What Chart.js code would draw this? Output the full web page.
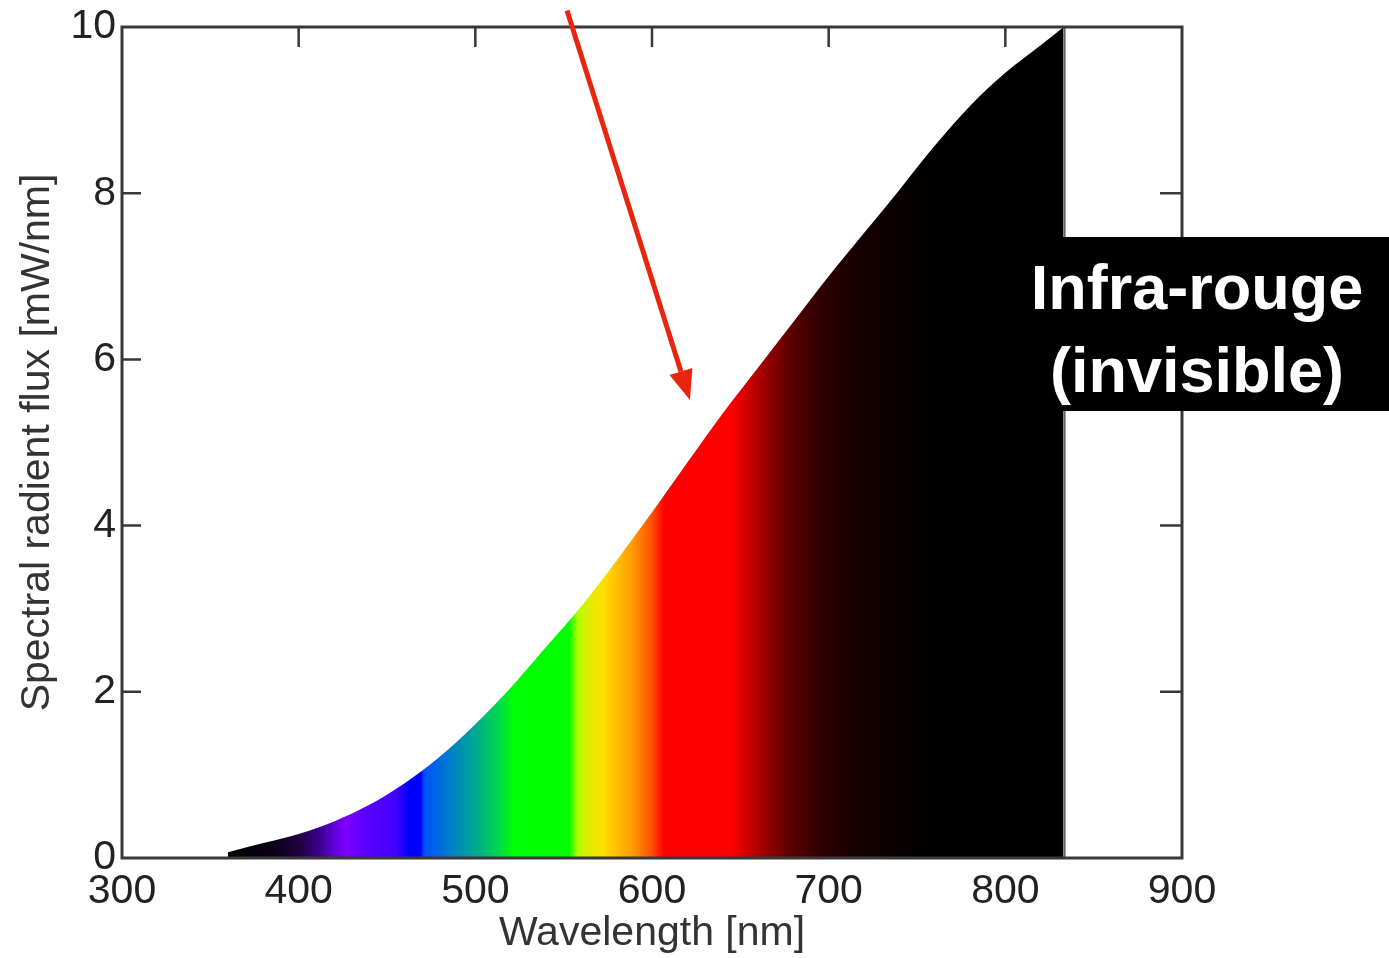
<!DOCTYPE html>
<html>
<head>
<meta charset="utf-8">
<script src="https://cdn.jsdelivr.net/npm/chart.js@4"></script>
<style>
  body { margin: 0; background: #fff; }
  #wrap { position: relative; width: 1389px; height: 958px; }
  #ir {
    position: absolute; left: 1005px; top: 237px; width: 384px; height: 174px;
    box-sizing: border-box; padding-top: 9px;
    background: #000; color: #fff; font-family: "Liberation Sans", Arial, sans-serif;
    font-weight: bold; font-size: 63px; line-height: 83px; text-align: center;
    white-space: nowrap;
  }
</style>
</head>
<body>
<div id="wrap">
  <canvas id="spectrum" width="1389" height="958"></canvas>
  <div id="ir">Infra-rouge<br>(invisible)</div>
</div>
<script>
// wavelengths (nm) and spectral flux (mW/nm)
const wavelengths = [360, 380, 400, 420, 440, 460, 480, 500, 520, 540, 560, 580, 600, 620, 640, 660, 680, 700, 720, 740, 760, 780, 800, 820, 833];
const flux = [0.07, 0.18, 0.29, 0.44, 0.64, 0.90, 1.22, 1.61, 2.05, 2.54, 3.03, 3.58, 4.16, 4.76, 5.35, 5.90, 6.45, 7.00, 7.52, 8.04, 8.57, 9.05, 9.45, 9.78, 10.0];
const xTicks = [300, 400, 500, 600, 700, 800, 900];
const yTicks = [0, 2, 4, 6, 8, 10];

// colour of the fill along the wavelength axis
const stopNm = [360, 385, 400, 412, 422, 427, 435, 455, 462, 469, 471, 484, 500, 515, 522, 553, 558, 563, 572, 588, 600, 604, 607, 645, 660, 677, 695, 715, 740, 760, 833];
const stopColor = ['#000000', '#0c0018', '#200040', '#3c0090', '#6a00e8', '#8000ff', '#6000ff', '#4400ff', '#0000ff', '#0000ff', '#0050ff', '#0078d0', '#00a890', '#00e040', '#00ff00', '#00ff00', '#b0ff00', '#d8f000', '#ffe000', '#ffa000', '#ff5000', '#ff2000', '#ff0000', '#ff0000', '#b00000', '#600000', '#300000', '#180000', '#080000', '#000000', '#000000'];

// red arrow, in data coordinates (nm, mW/nm)
const arrowFrom = [551.9, 10.2];
const arrowTo = [621.5, 5.51];

const frameColor = '#383838';
const fontFamily = '"Liberation Sans", Arial, sans-serif';

function spectrumFill(context) {
    const chart = context.chart;
    if (!chart.chartArea) return '#000';
    const x = chart.scales.x;
    const x0 = x.getPixelForValue(stopNm[0]);
    const x1 = x.getPixelForValue(stopNm[stopNm.length - 1]);
    const g = chart.ctx.createLinearGradient(x0, 0, x1, 0);
    stopNm.forEach((nm, i) => {
        g.addColorStop((nm - stopNm[0]) / (stopNm[stopNm.length - 1] - stopNm[0]), stopColor[i]);
    });
    return g;
}

const insideTicks = {
    id: 'insideTicks',
    beforeDatasetsDraw(chart) {
        const { ctx, chartArea: a, scales: { x, y } } = chart;
        ctx.save();
        ctx.strokeStyle = frameColor;
        ctx.lineWidth = 2.5;
        ctx.beginPath();
        xTicks.slice(1, -1).forEach(v => {
            const px = x.getPixelForValue(v);
            ctx.moveTo(px, a.top); ctx.lineTo(px, a.top + 20);
            ctx.moveTo(px, a.bottom); ctx.lineTo(px, a.bottom - 20);
        });
        yTicks.slice(1, -1).forEach(v => {
            const py = y.getPixelForValue(v);
            ctx.moveTo(a.left, py); ctx.lineTo(a.left + 19, py);
            ctx.moveTo(a.right, py); ctx.lineTo(a.right - 22, py);
        });
        ctx.stroke();
        ctx.restore();
    },
    afterDraw(chart) {
        const { ctx, chartArea: a, scales: { x, y } } = chart;
        ctx.save();
        // right edge of the curve
        const ex = x.getPixelForValue(wavelengths[wavelengths.length - 1]);
        ctx.strokeStyle = '#666';
        ctx.lineWidth = 2;
        ctx.beginPath();
        ctx.moveTo(ex + 1, a.top); ctx.lineTo(ex + 1, a.bottom);
        ctx.stroke();
        // frame
        ctx.strokeStyle = frameColor;
        ctx.lineWidth = 3;
        ctx.strokeRect(a.left, a.top, a.right - a.left, a.bottom - a.top);
        // arrow
        const sx = x.getPixelForValue(arrowFrom[0]), sy = y.getPixelForValue(arrowFrom[1]);
        const tx = x.getPixelForValue(arrowTo[0]), ty = y.getPixelForValue(arrowTo[1]);
        const ang = Math.atan2(ty - sy, tx - sx);
        const head = 30, half = 12;
        const bx = tx - head * Math.cos(ang), by = ty - head * Math.sin(ang);
        ctx.strokeStyle = '#e8260f';
        ctx.fillStyle = '#e8260f';
        ctx.lineWidth = 5;
        ctx.beginPath();
        ctx.moveTo(sx, sy); ctx.lineTo(bx, by);
        ctx.stroke();
        ctx.beginPath();
        ctx.moveTo(tx, ty);
        ctx.lineTo(bx + half * Math.sin(ang), by - half * Math.cos(ang));
        ctx.lineTo(bx - half * Math.sin(ang), by + half * Math.cos(ang));
        ctx.closePath();
        ctx.fill();
        ctx.restore();
    }
};

new Chart(document.getElementById('spectrum'), {
    type: 'line',
    data: {
        datasets: [{
            data: wavelengths.map((w, i) => ({ x: w, y: flux[i] })),
            fill: 'origin',
            backgroundColor: spectrumFill,
            borderWidth: 0,
            pointRadius: 0,
            cubicInterpolationMode: 'monotone'
        }]
    },
    options: {
        responsive: false,
        devicePixelRatio: 1,
        animation: false,
        layout: { padding: { top: 27, right: 207, left: 0, bottom: 0 } },
        plugins: { legend: { display: false }, tooltip: { enabled: false } },
        scales: {
            x: {
                type: 'linear', min: 300, max: 900,
                afterFit: s => { s.height = 100; },
                afterBuildTicks: s => { s.ticks = xTicks.map(v => ({ value: v })); },
                grid: { display: false },
                border: { display: false },
                ticks: { color: '#222', padding: 1, maxRotation: 0, font: { family: fontFamily, size: 41 } },
                title: { display: true, text: 'Wavelength [nm]', color: '#333', padding: 0, font: { family: fontFamily, size: 41 } }
            },
            y: {
                min: 0, max: 10,
                afterFit: s => { s.width = 122; },
                afterBuildTicks: s => { s.ticks = yTicks.map(v => ({ value: v })); },
                grid: { display: false },
                border: { display: false },
                ticks: { color: '#222', padding: -2, font: { family: fontFamily, size: 41 } },
                title: { display: true, text: 'Spectral radient flux [mW/nm]', color: '#333', padding: { top: 13, bottom: 0 }, font: { family: fontFamily, size: 41 } }
            }
        }
    },
    plugins: [insideTicks]
});
</script>
</body>
</html>
